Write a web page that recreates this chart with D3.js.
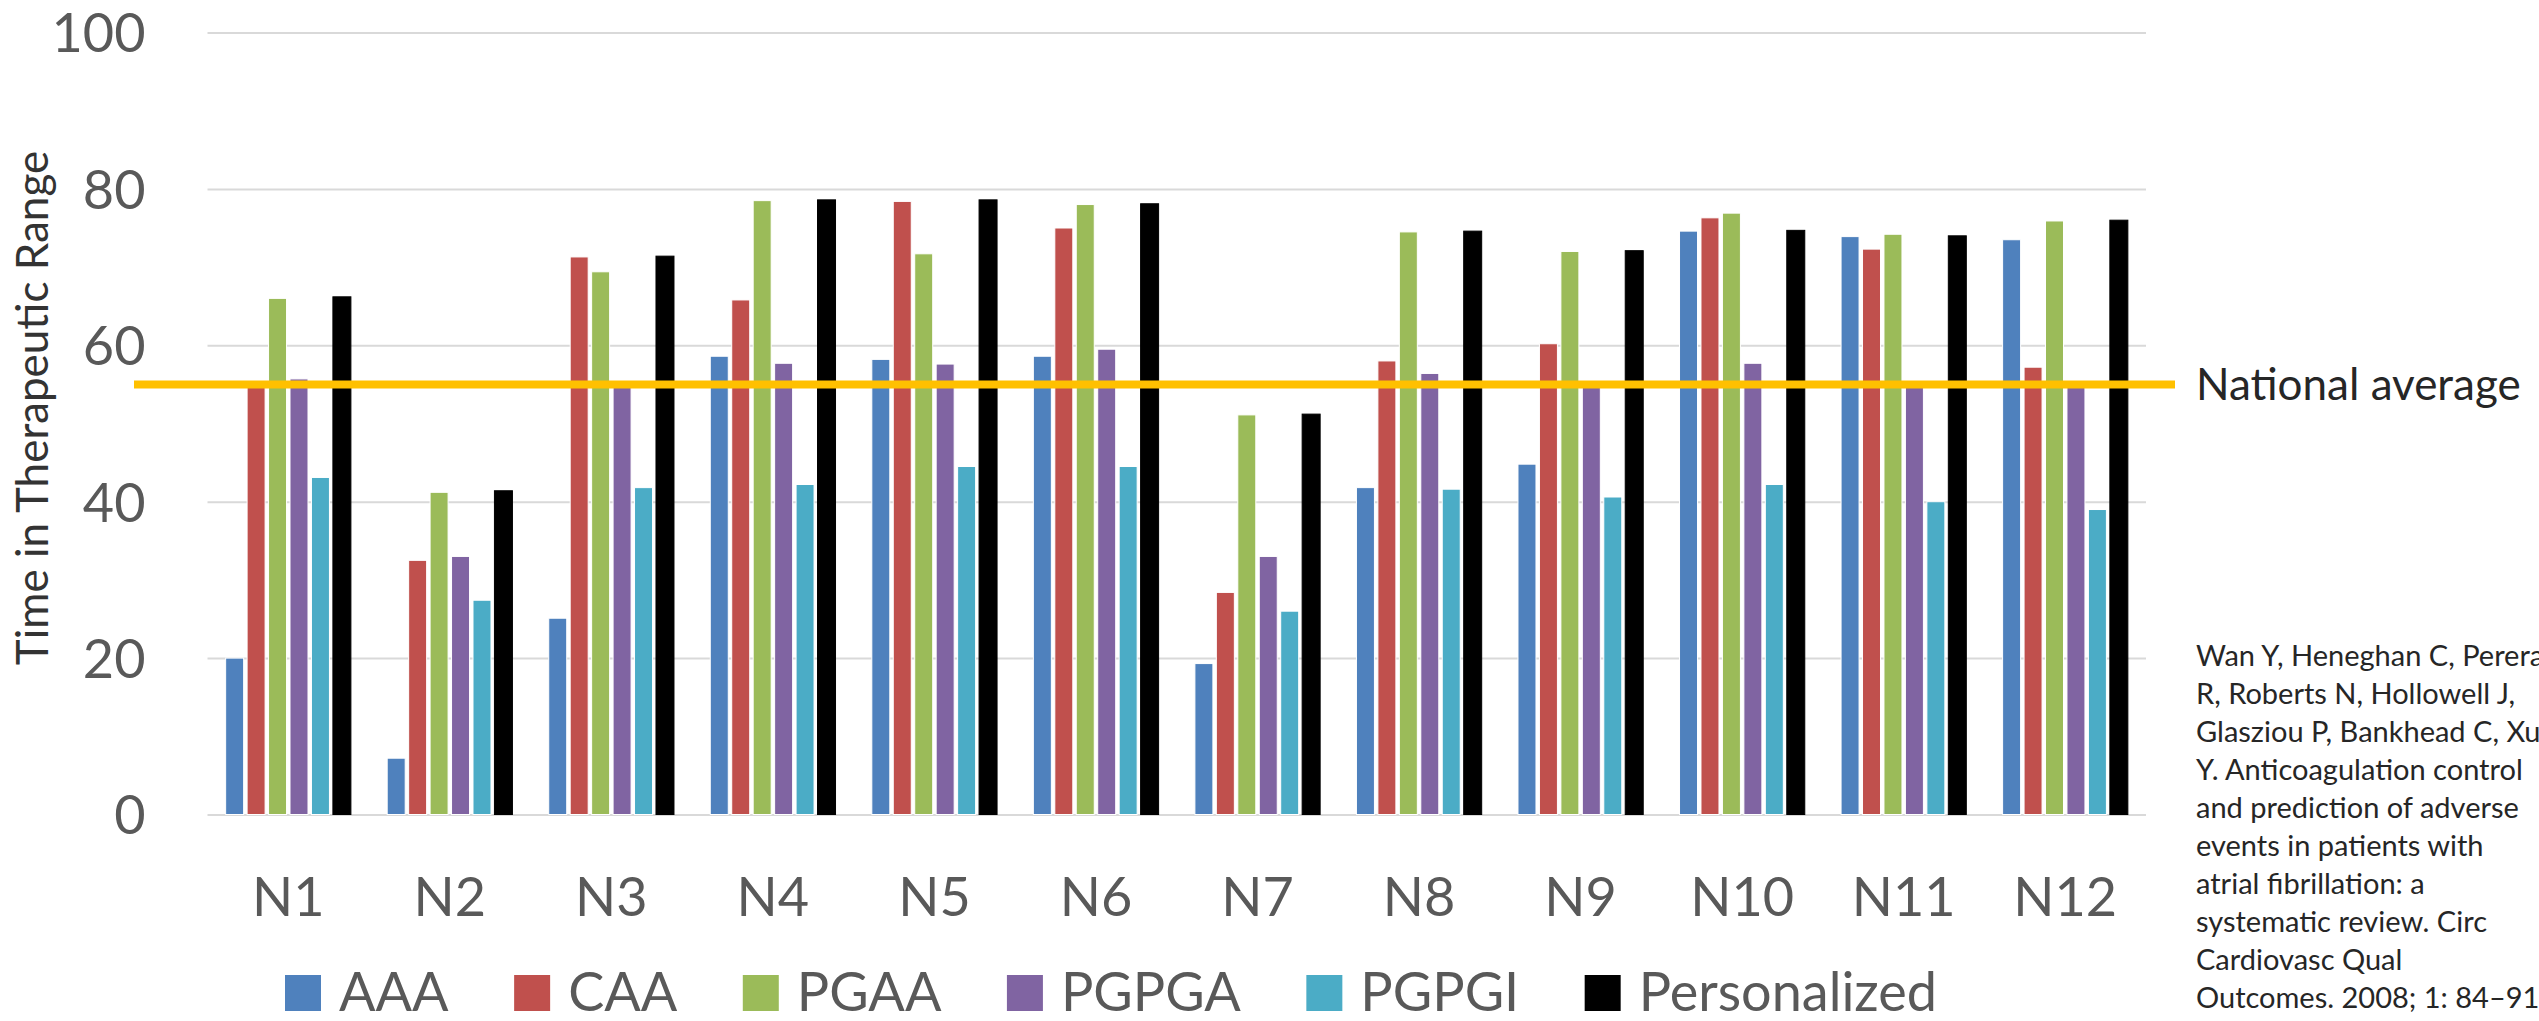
<!DOCTYPE html>
<html>
<head>
<meta charset="utf-8">
<script src="https://cdn.jsdelivr.net/npm/d3@7"></script>
<style>
  html, body { margin: 0; padding: 0; background: #fff; }
  svg { display: block; font-family: Lato, "Open Sans", sans-serif; }
</style>
</head>
<body>
<svg id="chart" width="2539" height="1021"></svg>
<script>
// ---- data ----
const categories = ["N1","N2","N3","N4","N5","N6","N7","N8","N9","N10","N11","N12"];
const seriesNames = ["AAA","CAA","PGAA","PGPGA","PGPGI","Personalized"];
const AAA          = [20.0, 7.2, 25.1, 58.6, 58.2, 58.6, 19.3, 41.8, 44.8, 74.6, 73.9, 73.5];
const CAA          = [55.0, 32.5, 71.3, 65.8, 78.4, 75.0, 28.4, 58.0, 60.2, 76.3, 72.3, 57.2];
const PGAA         = [66.0, 41.2, 69.4, 78.5, 71.7, 78.0, 51.1, 74.5, 72.0, 76.9, 74.2, 75.9];
const PGPGA        = [55.7, 33.0, 55.0, 57.7, 57.6, 59.5, 33.0, 56.4, 55.0, 57.7, 55.0, 55.0];
const PGPGI        = [43.1, 27.4, 41.8, 42.2, 44.5, 44.5, 26.0, 41.6, 40.6, 42.2, 40.0, 39.0];
const Personalized = [66.2, 41.4, 71.4, 78.6, 78.6, 78.1, 51.2, 74.6, 72.1, 74.7, 74.0, 76.0];
const yTicks = [0, 20, 40, 60, 80, 100];
const nationalAverage = 55;
const nationalLabel = "National average";
const yTitle = "Time in Therapeutic Range";
const citationLines = [
  "Wan Y, Heneghan C, Perera",
  "R, Roberts N, Hollowell J,",
  "Glasziou P, Bankhead C, Xu",
  "Y. Anticoagulation control",
  "and prediction of adverse",
  "events in patients with",
  "atrial fibrillation: a",
  "systematic review. Circ",
  "Cardiovasc Qual",
  "Outcomes. 2008; 1: 84\u201391"
];
const colors = ["#4F81BD","#C0504D","#9BBB59","#8064A2","#4BACC6","#000000"];

const seriesValues = [AAA, CAA, PGAA, PGPGA, PGPGI, Personalized];
const rows = categories.map((c, i) => ({
  cat: c,
  vals: seriesNames.map((s, j) => ({ key: s, value: seriesValues[j][i], idx: j }))
}));

// ---- layout ----
const svg = d3.select("#chart");
const plotLeft = 207.5, plotRight = 2146, plotTop = 32.5, plotBottom = 814.5;

const x0 = d3.scaleBand().domain(categories).range([plotLeft, plotRight]).padding(0);
const x1 = d3.scaleBand().domain(seriesNames).range([0, x0.bandwidth()])
  .paddingInner(0.161).paddingOuter(0.846);
const y = d3.scaleLinear().domain([0, 100]).range([plotBottom, plotTop]);
const color = d3.scaleOrdinal().domain(seriesNames).range(colors);

// gridlines
const yAxis = d3.axisLeft(y).tickValues(yTicks).tickSize(-(plotRight - plotLeft)).tickPadding(62);
const gy = svg.append("g").attr("transform", `translate(${plotLeft},0)`).call(yAxis);
gy.select(".domain").remove();
gy.selectAll(".tick line").attr("stroke", "#d9d9d9").attr("stroke-width", 2);
gy.selectAll(".tick text")
  .attr("fill", "#595959").attr("font-size", 54).attr("font-family", "Lato, sans-serif")
  .attr("dy", "0.36em");

// bars
const groups = svg.append("g").selectAll("g").data(rows).join("g")
  .attr("transform", d => `translate(${x0(d.cat)},0)`);
groups.selectAll("rect").data(d => d.vals).join("rect")
  .attr("x", d => x1(d.key))
  .attr("y", d => y(d.value))
  .attr("width", x1.bandwidth())
  .attr("height", d => y(0) - y(d.value))
  .attr("fill", d => color(d.key))
  .attr("stroke", d => d.idx === 5 ? "#000" : "#fff")
  .attr("stroke-width", 1);

// x axis labels
const xAxis = d3.axisBottom(x0).tickSize(0).tickPadding(0);
const gx = svg.append("g").attr("transform", `translate(0,${plotBottom})`).call(xAxis);
gx.select(".domain").remove();
gx.selectAll(".tick text")
  .attr("fill", "#595959").attr("font-size", 54).attr("font-family", "Lato, sans-serif")
  .attr("y", 916 - plotBottom).attr("dy", 0);

// national average line
svg.append("line")
  .attr("x1", 134).attr("x2", 2175)
  .attr("y1", y(nationalAverage)).attr("y2", y(nationalAverage))
  .attr("stroke", "#FFC000").attr("stroke-width", 8);
svg.append("text")
  .attr("x", 2196).attr("y", y(nationalAverage) + 15.5)
  .attr("font-size", 44).attr("fill", "#262626")
  .text(nationalLabel);

// y title
svg.append("text")
  .attr("transform", `translate(48,408) rotate(-90)`)
  .attr("text-anchor", "middle")
  .attr("font-size", 44).attr("fill", "#333")
  .text(yTitle);

// citation
const cit = svg.append("text").attr("font-size", 29).attr("fill", "#262626");
cit.selectAll("tspan").data(citationLines).join("tspan")
  .attr("x", 2196).attr("y", (d, i) => 665.5 + i * 38.1)
  .text(d => d);

// legend
const legBase = 1011;
const legend = svg.append("g");
const items = legend.selectAll("g").data(seriesNames).join("g");
items.append("rect").attr("width", 36).attr("height", 36).attr("y", legBase - 36)
  .attr("fill", d => color(d));
items.append("text").attr("y", legBase).attr("font-size", 54).attr("fill", "#595959")
  .text(d => d);
const widths = [];
items.select("text").each(function() { widths.push(this.getComputedTextLength()); });
const legStart = 285, legEnd = 1937;
const itemW = widths.map(w => 36 + 18 + w);
const gap = (legEnd - legStart - d3.sum(itemW)) / (seriesNames.length - 1);
let cx = legStart;
items.each(function(d, i) {
  const g = d3.select(this);
  g.select("rect").attr("x", cx);
  g.select("text").attr("x", cx + 54);
  cx += itemW[i] + gap;
});
</script>
</body>
</html>
